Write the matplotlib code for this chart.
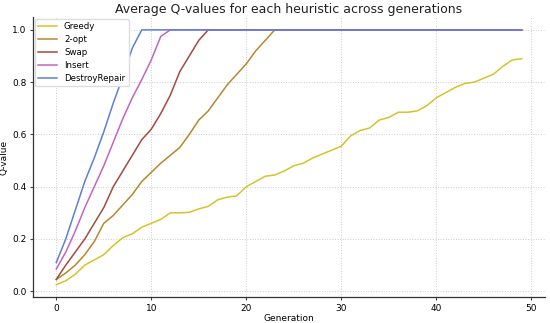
import numpy as np
import matplotlib
matplotlib.use("Agg")
import matplotlib.pyplot as plt

generations = np.arange(50)

greedy = [0.025, 0.04, 0.065, 0.10, 0.12, 0.14, 0.175, 0.205, 0.22, 0.245,
          0.26, 0.275, 0.30, 0.30, 0.302, 0.315, 0.325, 0.35, 0.36, 0.365,
          0.40, 0.42, 0.44, 0.445, 0.46, 0.48, 0.49, 0.51, 0.525, 0.54,
          0.555, 0.595, 0.615, 0.625, 0.655, 0.665, 0.685, 0.685, 0.69, 0.71,
          0.74, 0.76, 0.78, 0.795, 0.80, 0.815, 0.83, 0.86, 0.885, 0.89]

two_opt_rise = [0.045, 0.07, 0.10, 0.14, 0.19, 0.26, 0.29, 0.33, 0.37, 0.42,
                0.455, 0.49, 0.52, 0.55, 0.60, 0.655, 0.69, 0.74, 0.79, 0.83,
                0.87, 0.92, 0.96]
swap_rise = [0.045, 0.10, 0.15, 0.20, 0.26, 0.32, 0.40, 0.46, 0.52, 0.58,
             0.62, 0.68, 0.75, 0.84, 0.90, 0.96]
insert_rise = [0.085, 0.15, 0.23, 0.32, 0.40, 0.48, 0.57, 0.66, 0.74, 0.81,
               0.885, 0.975]
destroy_rise = [0.11, 0.20, 0.31, 0.42, 0.51, 0.61, 0.72, 0.82, 0.93]

two_opt = two_opt_rise + [1.0] * (50 - len(two_opt_rise))
swap = swap_rise + [1.0] * (50 - len(swap_rise))
insert = insert_rise + [1.0] * (50 - len(insert_rise))
destroy_repair = destroy_rise + [1.0] * (50 - len(destroy_rise))

names = ["Greedy", "2-opt", "Swap", "Insert", "DestroyRepair"]
series = [greedy, two_opt, swap, insert, destroy_repair]
colors = ["#d8c22a", "#b8862e", "#a44a3e", "#c264c4", "#5b80d8"]

fig = plt.figure(figsize=(5.5, 3.23), dpi=100)
ax = fig.add_axes([0.06, 0.079, 0.931, 0.868])

for name, vals, c in zip(names, series, colors):
    ax.plot(generations, vals, color=c, lw=1.1, label=name)

ax.set_title("Average Q-values for each heuristic across generations",
             fontsize=9, color="#222222", pad=3)
ax.set_xlabel("Generation", fontsize=6.5, labelpad=1)
ax.set_ylabel("Q-value", fontsize=6.5, labelpad=3)
ax.set_xticks([0, 10, 20, 30, 40, 50])
ax.set_yticks([0.0, 0.2, 0.4, 0.6, 0.8, 1.0])
ax.tick_params(labelsize=6.5, length=2.5, color="#444444", pad=2)
ax.grid(True, linestyle=":", color="#cccccc", lw=0.7)
for s in ["top", "right"]:
    ax.spines[s].set_visible(False)
for s in ["left", "bottom"]:
    ax.spines[s].set_color("#333333")
    ax.spines[s].set_linewidth(0.9)

ax.legend(loc="upper left", fontsize=6.2, frameon=True, framealpha=1,
          edgecolor="#dddddd", borderaxespad=0.2, handlelength=2.2,
          labelspacing=0.45)

fig.savefig("out.png", dpi=100)
